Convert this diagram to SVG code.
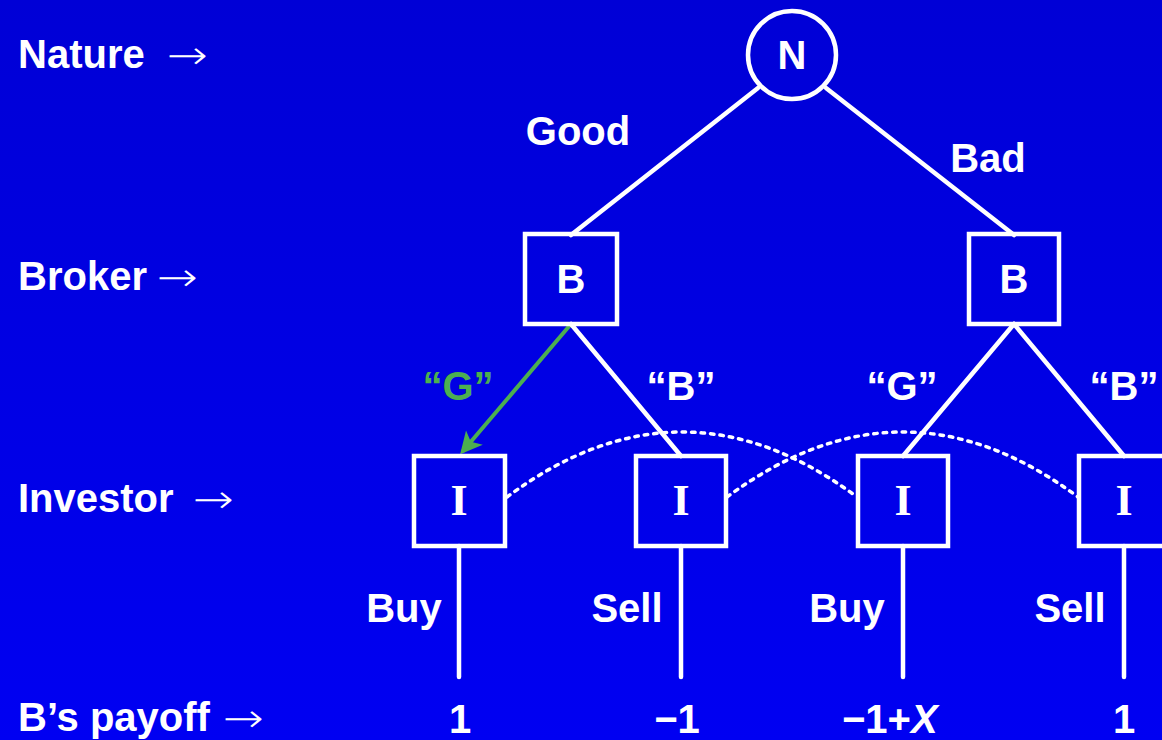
<svg xmlns="http://www.w3.org/2000/svg" width="1162" height="740" viewBox="0 0 1162 740">
<defs>
<linearGradient id="bg" x1="0" y1="0" x2="0" y2="1">
<stop offset="0" stop-color="#0000d6"/>
<stop offset="1" stop-color="#0000f2"/>
</linearGradient>
<marker id="ga" viewBox="0 0 10 10" refX="8" refY="5" markerWidth="6.5" markerHeight="5.5" orient="auto" markerUnits="strokeWidth">
<path d="M0,0 L10,5 L0,10 L2.5,5 z" fill="#4caf50"/>
</marker>
<style>
.t{font-family:"Liberation Sans",Arial,sans-serif;font-weight:bold;font-size:40px;fill:#fff}
.s{font-family:"Liberation Serif","Times New Roman",serif;font-weight:bold;font-size:44px;fill:#fff}
.ar{font-family:"DejaVu Sans",sans-serif;font-weight:200;font-size:40px;fill:#fff}
.node{fill:none;stroke:#fff;stroke-width:4.5}
.e{stroke:#fff;stroke-width:4.5;fill:none;stroke-linecap:round}
.d{stroke:#fff;stroke-width:3.5;fill:none;stroke-dasharray:3.5 6;stroke-linecap:round}
.c{text-anchor:middle}
</style>
</defs>
<rect width="1162" height="740" fill="url(#bg)"/>

<g id="row-labels">
<text class="t" x="18" y="68">Nature</text><text class="ar" x="167" y="69" textLength="41" lengthAdjust="spacingAndGlyphs">→</text>
<text class="t" x="18" y="290">Broker</text><text class="ar" x="157" y="291" textLength="41" lengthAdjust="spacingAndGlyphs">→</text>
<text class="t" x="18" y="512">Investor</text><text class="ar" x="193" y="513" textLength="41" lengthAdjust="spacingAndGlyphs">→</text>
<text class="t" x="18" y="731">B’s payoff</text><text class="ar" x="223" y="732" textLength="41" lengthAdjust="spacingAndGlyphs">→</text>
</g>

<g id="connectors">
<line class="e" x1="758" y1="88" x2="571" y2="235"/>
<line class="e" x1="826" y1="88" x2="1014" y2="235"/>
<line x1="571" y1="324" x2="463" y2="451" stroke="#4caf50" stroke-width="4" stroke-linecap="round" marker-end="url(#ga)"/>
<line class="e" x1="571" y1="324" x2="681" y2="456"/>
<line class="e" x1="1014" y1="324" x2="903" y2="456"/>
<line class="e" x1="1014" y1="324" x2="1124" y2="456"/>
<line class="e" x1="459" y1="546" x2="459" y2="677"/>
<line class="e" x1="681" y1="546" x2="681" y2="677"/>
<line class="e" x1="903" y1="546" x2="903" y2="677"/>
<line class="e" x1="1124" y1="546" x2="1124" y2="677"/>
<path class="d" d="M507,497 Q682,367 857,497"/>
<path class="d" d="M727,497 Q903,367 1078,497"/>
</g>

<g id="edge-labels">
<text class="t c" x="578" y="145">Good</text>
<text class="t c" x="988" y="172">Bad</text>
<text class="t c" x="458" y="400" style="fill:#4caf50">“G”</text>
<text class="t c" x="681" y="400">“B”</text>
<text class="t c" x="902" y="400">“G”</text>
<text class="t c" x="1124" y="400">“B”</text>
<text class="t c" x="404" y="622">Buy</text>
<text class="t c" x="627" y="622">Sell</text>
<text class="t c" x="847" y="622">Buy</text>
<text class="t c" x="1070" y="622">Sell</text>
</g>

<g id="node-N">
<circle class="node" cx="792" cy="55" r="44"/>
<text class="t c" x="792" y="69">N</text>
</g>
<g id="node-B1">
<rect class="node" x="525" y="234" width="92" height="90"/>
<text class="t c" x="571" y="293">B</text>
</g>
<g id="node-B2">
<rect class="node" x="969" y="234" width="90" height="90"/>
<text class="t c" x="1014" y="293">B</text>
</g>
<g id="node-I1">
<rect class="node" x="414" y="456" width="91" height="90"/>
<text class="s c" x="459" y="515">I</text>
</g>
<g id="node-I2">
<rect class="node" x="636" y="456" width="90" height="90"/>
<text class="s c" x="681" y="515">I</text>
</g>
<g id="node-I3">
<rect class="node" x="858" y="456" width="90" height="90"/>
<text class="s c" x="903" y="515">I</text>
</g>
<g id="node-I4">
<rect class="node" x="1079" y="456" width="90" height="90"/>
<text class="s c" x="1124" y="515">I</text>
</g>

<g id="payoffs">
<text class="t c" x="460" y="733">1</text>
<text class="t c" x="677" y="733">−1</text>
<text class="t" x="842" y="733">−1+<tspan font-style="italic">X</tspan></text>
<text class="t c" x="1124" y="733">1</text>
</g>
</svg>
